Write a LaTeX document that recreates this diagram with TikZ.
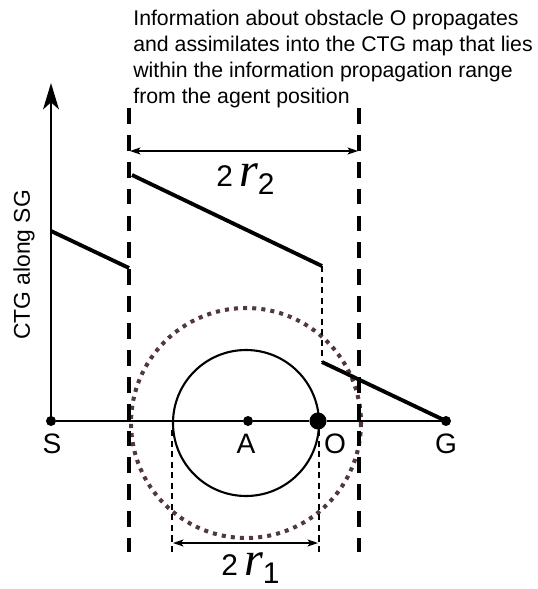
\documentclass[tikz,border=0pt]{standalone}
\usepackage{fontspec}
\setmainfont{Liberation Sans}
\newfontfamily\rfont{Liberation Serif}
\usepackage{xcolor}
\usepackage{tikz}
\usetikzlibrary{arrows.meta}
\definecolor{ringcol}{RGB}{82,54,70}
\newcommand{\twor}[1]{{\fontsize{17}{17}\selectfont 2}\hspace{3.5pt}{\fontsize{27.5}{27.5}\selectfont\rfont\itshape r}\lower 5pt\hbox{\fontsize{17}{17}\selectfont #1}}

\begin{document}
\begin{tikzpicture}[x=0.02cm, y=-0.02cm,
  bar/.style={line width=2.3pt, dash pattern=on 9pt off 6.3pt},
  guide/.style={line width=0.7pt, dash pattern=on 3.5pt off 2.5pt},
  cost/.style={line width=2.2pt},
  dot/.style={circle, fill, inner sep=0pt, minimum size=5.7pt},
  lab/.style={font=\fontsize{16}{18}\selectfont, anchor=base},
  dim/.style={{Stealth[length=6pt, width=4pt, inset=1.5pt]}-{Stealth[length=6pt, width=4pt, inset=1.5pt]}, line width=0.7pt}
]
\useasboundingbox (0,0) rectangle (538,589);

% ranges
\draw[ringcol, line width=2.3pt, dash pattern=on 2.3pt off 2.9pt] (246,423) circle[radius=115];
\draw[line width=1.2pt] (246,423) circle[radius=73];

% axes and points
\node[dot] (S) at (51,421) {};
\node[dot] (A) at (248,421) {};
\node[dot, minimum size=9.7pt] (O) at (318,421) {};
\node[dot] (G) at (446,421) {};
\coordinate (top) at (51,83);
\draw[line width=1.2pt, -{Stealth[length=15pt, width=9pt, inset=4pt]}] (S.center) -- (top);
\draw[line width=1.2pt] (S) -- (A) -- (O) -- (G);

\node[lab] (sl) at (52,453) {S};
\node[lab] (al) at (246,453) {A};
\node[lab] (ol) at (335,453) {O};
\node[lab] (gl) at (446,453) {G};
\node[rotate=90, font=\fontsize{13}{15}\selectfont] (yl) at (24,265) {CTG along SG};

% CTG along SG
\coordinate (c1) at (51,231);
\coordinate (c2) at (129,268);
\coordinate (c3) at (132,175);
\coordinate (c4) at (322,266);
\coordinate (c5) at (322,362);
\draw[cost] (c1) -- (c2);
\draw[cost] (c3) -- (c4);
\draw[cost] (c5) -- (G.center);
\draw[guide] (c4) -- (c5);

% propagation range r2
\coordinate (b1) at (129,108);
\coordinate (b2) at (129,552);
\coordinate (b3) at (359,108);
\coordinate (b4) at (359,552);
\draw[bar] (b1) -- (b2);
\draw[bar] (b3) -- (b4);
\coordinate (d1) at (130,151);
\coordinate (d2) at (358,151);
\draw[dim] (d1) -- (d2);
\node[anchor=base west, inner sep=0pt] (r2) at (216,186) {\twor{2}};

% sensing range r1
\coordinate (g1) at (172,430);
\coordinate (g2) at (172,553);
\coordinate (g3) at (319,430);
\coordinate (g4) at (319,553);
\draw[guide] (g1) -- (g2);
\draw[guide] (g3) -- (g4);
\coordinate (e1) at (173,543);
\coordinate (e2) at (318,543);
\draw[dim] (e1) -- (e2);
\node[anchor=base west, inner sep=0pt] (r1) at (221,575) {\twor{1}};

\node[anchor=north west, inner sep=0pt, align=left, font=\fontsize{12.1}{14.8}\selectfont] (note) at (133,10)
  {Information about obstacle O propagates\\
   and assimilates into the CTG map that lies\\
   within the information propagation range\\
   from the agent position};
\end{tikzpicture}
\end{document}
